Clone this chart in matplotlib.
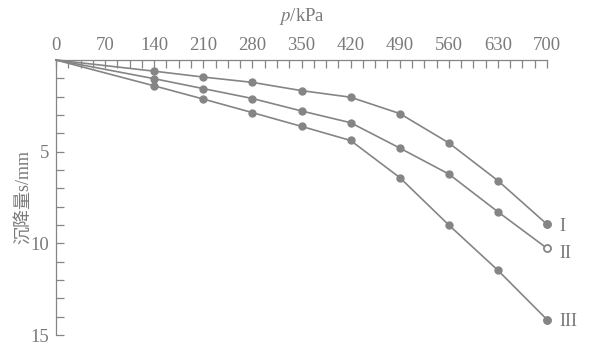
import matplotlib
matplotlib.use('Agg')
import matplotlib.pyplot as plt
from matplotlib.ticker import MultipleLocator

# load p (kPa) and settlement s (mm) for three curves
p = [0, 140, 210, 280, 350, 420, 490, 560, 630, 700]
s1 = [0, 0.61, 0.93, 1.22, 1.67, 2.03, 2.92, 4.52, 6.58, 8.96]
s2 = [0, 1.02, 1.56, 2.10, 2.78, 3.42, 4.80, 6.22, 8.28, 10.27]
s3 = [0, 1.41, 2.13, 2.87, 3.62, 4.39, 6.41, 9.00, 11.47, 14.16]
names = ['I', 'II', 'III']
xticks = [0, 70, 140, 210, 280, 350, 420, 490, 560, 630, 700]
yticks = [5, 10, 15]

gray = '#858585'
tcol = '#7a7a7a'
plt.rcParams['font.family'] = ['Liberation Serif', 'Noto Sans CJK SC']
plt.rcParams['mathtext.fontset'] = 'stix'

W, H = 589, 345
fig = plt.figure(figsize=(W/100., H/100.), dpi=100)
ax = fig.add_axes([56./W, 1 - 335./H, (547. - 56.)/W, (335. - 60.)/H])

for k, s in enumerate([s1, s2, s3]):
    face = 'white' if k == 1 else gray
    ax.plot(p, s, color=gray, lw=1.2, marker='o', ms=5,
            mfc=gray, mec=gray, markevery=slice(1, None), clip_on=False)
    # last point of curve II is hollow
    ax.plot(p[-1], s[-1], 'o', ms=5, mfc=face, mec=gray, mew=1.2, clip_on=False)
    dy = 0.3 if k == 1 else 0.1
    ax.text(p[-1] + 18, s[-1] + dy, names[k], fontsize=13, color=tcol,
            ha='left', va='center')

ax.set_xlim(0, 700)
ax.set_ylim(15, 0)
ax.xaxis.tick_top()
ax.set_xticks(xticks)
ax.set_yticks(yticks)
ax.xaxis.set_minor_locator(MultipleLocator(17.5))
ax.yaxis.set_minor_locator(MultipleLocator(1))
ax.tick_params(which='both', direction='in', colors=gray, labelcolor=tcol,
               labelsize=13.5, length=6, width=0.9, pad=4)
ax.tick_params(axis='y', which='both', pad=5)
for sp in ['right', 'bottom']:
    ax.spines[sp].set_visible(False)
for sp in ['left', 'top']:
    ax.spines[sp].set_color(gray)
    ax.spines[sp].set_linewidth(0.9)

ax.set_xlabel('$p$/kPa', fontsize=13.5, color=tcol, labelpad=12)
ax.xaxis.set_label_position('top')
ax.set_ylabel('沉降量s/mm', fontsize=13, color=tcol, labelpad=-1)

plt.savefig('out.png', dpi=100)
